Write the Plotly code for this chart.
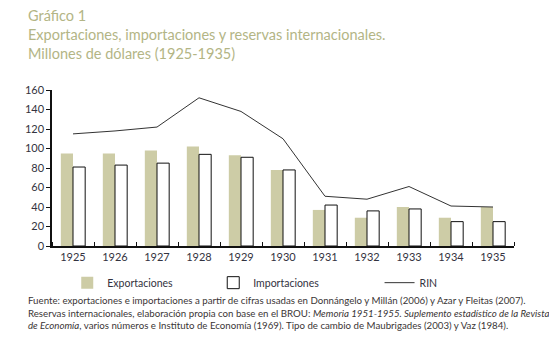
import plotly.graph_objects as go

years = [1925, 1926, 1927, 1928, 1929, 1930, 1931, 1932, 1933, 1934, 1935]
exportaciones = [95, 95, 98, 102, 93, 78, 37, 29, 40, 29, 40]
importaciones = [81, 83, 85, 94, 91, 78, 42, 36, 38, 25, 25]
rin = [115, 118, 122, 152, 138, 110, 51, 48, 61, 41, 40]
y_ticks = [0, 20, 40, 60, 80, 100, 120, 140, 160]

FONT = "Lato"
TITLE_COL = "#b3b585"
EXP_COL = "#cdcca6"
TXT = "#333340"

fig = go.Figure()
fig.add_trace(go.Bar(x=years, y=exportaciones, name="Exportaciones", legend="legend",
                     marker=dict(color=EXP_COL, line=dict(width=0))))
fig.add_trace(go.Bar(x=years, y=importaciones, name="Importaciones", legend="legend",
                     marker=dict(color="white", line=dict(color="#111111", width=1))))
fig.add_trace(go.Scatter(x=years, y=rin, name="RIN", mode="lines", legend="legend2",
                         line=dict(color="#333333", width=1)))

legend_common = dict(orientation="h", yanchor="middle", y=-0.235, xanchor="left",
                     font=dict(size=10.5, color=TXT), itemwidth=30,
                     traceorder="normal", bgcolor="rgba(0,0,0,0)")

fig.update_layout(
    width=549, height=346,
    margin=dict(l=52, r=35, t=90, b=100, autoexpand=False),
    paper_bgcolor="white", plot_bgcolor="white",
    barmode="group", bargap=0.42, bargroupgap=0,
    font=dict(family=FONT, size=11, color=TXT),
    showlegend=True,
    legend=dict(legend_common, x=0.033, entrywidth=101),
    legend2=dict(legend_common, x=0.709),
    xaxis=dict(range=[years[0] - 0.5, years[-1] + 0.5], tickvals=years,
               ticktext=[str(y) for y in years], automargin=False,
               showline=True, linecolor="#111111", linewidth=1.5,
               ticks="", showgrid=False, tickfont=dict(size=11, color=TXT),
               minor=dict(ticks="inside", tick0=years[0] - 0.5, dtick=1, ticklen=4,
                          tickcolor="#111111", tickwidth=1, showgrid=False)),
    yaxis=dict(range=[0, 160], tickvals=y_ticks, showline=True, linecolor="#111111",
               automargin=False,
               linewidth=1.5, ticks="outside", ticklen=4, tickcolor="#111111",
               showgrid=False, zeroline=False, tickfont=dict(size=11, color=TXT)),
)

fig.add_annotation(xref="paper", yref="paper", x=-0.052, y=1.545, xanchor="left", yanchor="top",
                   align="left", showarrow=False, xshift=-2,
                   text="Gráfico 1<br>Exportaciones, importaciones y reservas internacionales.<br>Millones de dólares (1925-1935)",
                   font=dict(family=FONT, size=14.5, color=TITLE_COL))

fig.add_annotation(xref="paper", yref="paper", x=-0.052, y=-0.297, xanchor="left", yanchor="top",
                   align="left", showarrow=False, xshift=-2,
                   text=("Fuente: exportaciones e importaciones a partir de cifras usadas en Donnángelo y Millán (2006) y Azar y Fleitas (2007).<br>"
                         "Reservas internacionales, elaboración propia con base en el BROU: <i>Memoria 1951-1955. Suplemento estadístico de la Revista</i><br>"
                         "<i>de Economía</i>, varios números e Instituto de Economía (1969). Tipo de cambio de Maubrigades (2003) y Vaz (1984)."),
                   font=dict(family=FONT, size=9.7, color="#3a3535"))

fig.write_html("out.html", config={"displayModeBar": False},
               post_script="document.body.style.margin='0';")
